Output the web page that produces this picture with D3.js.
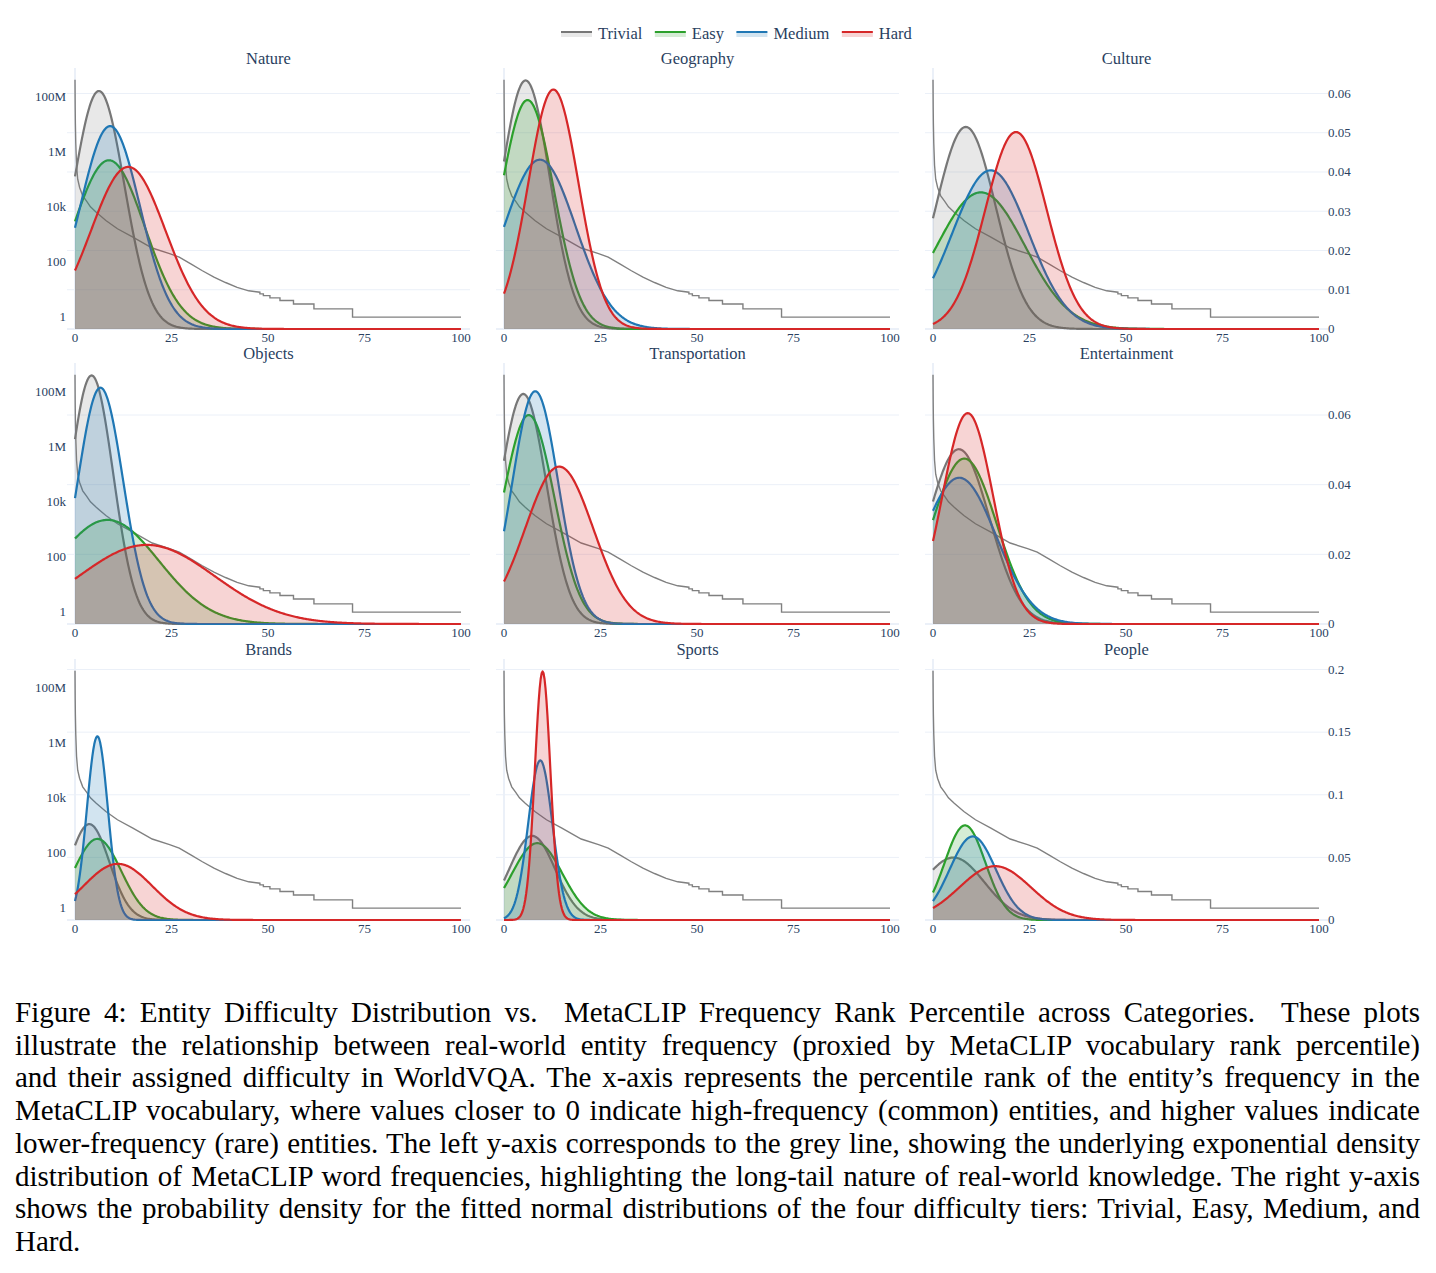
<!DOCTYPE html>
<html>
<head>
<meta charset="utf-8">
<script src="https://cdn.jsdelivr.net/npm/d3@7"></script>
<style>
  body { margin: 0; background: #fff; }
  svg { display: block; }
  text { font-family: "Liberation Serif", "Times New Roman", serif; }
</style>
</head>
<body>
<svg id="chart"></svg>
<script>
// ---- data ----
const categories = ["Nature", "Geography", "Culture", "Objects", "Transportation", "Entertainment", "Brands", "Sports", "People"];
const tiers = ["Trivial", "Easy", "Medium", "Hard"];

// fitted normal distributions, one row per category: [Trivial, Easy, Medium, Hard]
const tierMeans = [
    [6.2, 8.8, 9.1, 13.8],
    [5.6, 6.1, 9.3, 12.8],
    [8.5, 12.4, 14.9, 21.5],
    [4.3, 8.4, 6.6, 18.6],
    [5.0, 6.4, 8.1, 14.3],
    [6.7, 8.1, 6.8, 9.0],
    [3.7, 5.8, 5.8, 11.1],
    [7.3, 8.6, 9.4, 10.0],
    [5.3, 8.3, 10.3, 16.1]
];
const tierSds = [
    [6.58, 9.28, 7.72, 9.66],
    [6.30, 6.84, 9.25, 6.54],
    [7.75, 11.46, 9.87, 7.95],
    [5.59, 13.35, 5.88, 17.57],
    [6.04, 6.65, 5.97, 8.83],
    [7.95, 8.40, 9.50, 6.59],
    [5.21, 6.16, 2.72, 8.9],
    [5.94, 6.50, 3.13, 2.01],
    [8.00, 5.28, 5.98, 9.28]
];

// MetaCLIP word frequency vs rank percentile (same grey line in every panel)
const freqPercentile = [0, 0.05, 0.1, 0.2, 0.4, 0.7, 1.2, 2, 3, 4, 5.5, 8, 11, 15, 20, 24.5, 27, 30, 33, 36, 39, 42, 45,
    47.9, 47.9, 48.8, 48.8, 50.5, 50.5, 53.1, 53.1, 56.6, 56.6, 61.9, 61.9, 71.9, 71.9, 100];
const freqCount = [4e8, 4e7, 1e7, 2e6, 3.2e5, 1e5, 5e4, 2.5e4, 1.6e4, 1e4, 6300, 3200, 1600, 800, 320, 200, 150, 85, 48, 28, 18, 12, 9,
    8, 7, 7, 6, 6, 5, 5, 4, 4, 3, 3, 2, 2, 1, 1];

const freqTicks = [1, 100, 1e4, 1e6, 1e8];
const freqTickLabels = ["1", "100", "10k", "1M", "100M"];
const densityTicks = [
    [0, 0.01, 0.02, 0.03, 0.04, 0.05, 0.06],
    [0, 0.02, 0.04, 0.06],
    [0, 0.05, 0.1, 0.15, 0.2]
];
const xTicks = [0, 25, 50, 75, 100];

const captionLines = [
    "Figure 4: Entity Difficulty Distribution vs.  MetaCLIP Frequency Rank Percentile across Categories.  These plots",
    "illustrate the relationship between real-world entity frequency (proxied by MetaCLIP vocabulary rank percentile)",
    "and their assigned difficulty in WorldVQA. The x-axis represents the percentile rank of the entity’s frequency in the",
    "MetaCLIP vocabulary, where values closer to 0 indicate high-frequency (common) entities, and higher values indicate",
    "lower-frequency (rare) entities. The left y-axis corresponds to the grey line, showing the underlying exponential density",
    "distribution of MetaCLIP word frequencies, highlighting the long-tail nature of real-world knowledge. The right y-axis",
    "shows the probability density for the fitted normal distributions of the four difficulty tiers: Trivial, Easy, Medium, and",
    "Hard."
];

// ---- layout / style ----
const width = 1436;
const height = 1273;
const colLeft = [67, 496, 925];
const rowTop = [68, 363, 659];
const plotW = 403;
const plotH = 261;
const tickSize = 13;
const inkColor = "#2a3f5f";
const gridColor = "#ebf0f8";
const tierColors = ["#777777", "#2ca02c", "#1f77b4", "#d62728"];
const tierFills = ["rgba(128,128,128,0.18)", "rgba(44,160,44,0.2)", "rgba(31,119,180,0.2)", "rgba(214,39,40,0.2)"];

const svg = d3.select("#chart")
    .attr("width", width)
    .attr("height", height)
    .attr("viewBox", `0 0 ${width} ${height}`);

svg.append("rect").attr("width", width).attr("height", height).attr("fill", "#fff");

const normalPdf = (x, mu, sd) => Math.exp(-((x - mu) ** 2) / (2 * sd * sd)) / (sd * Math.sqrt(2 * Math.PI));

const x = d3.scaleLinear().domain([0, 100]).range([8, 394]);

// log axis padded 5% on each side like plotly autorange
const logLo = Math.log10(d3.min(freqCount));
const logHi = Math.log10(d3.max(freqCount));
const logPad = (logHi - logLo) * 0.05;
const yFreq = d3.scaleLog()
    .domain([10 ** (logLo - logPad), 10 ** (logHi + logPad)])
    .range([plotH, 0]);

const xs = d3.range(0, 100.001, 0.25);

const freqData = freqPercentile.map((p, i) => [p, freqCount[i]]);
const freqLine = d3.line().x(d => x(d[0])).y(d => yFreq(d[1]));

for (let row = 0; row < 3; row++) {
    // shared right axis per row
    let rowMax = 0;
    for (let col = 0; col < 3; col++) {
        const c = row * 3 + col;
        tierSds[c].forEach(sd => { rowMax = Math.max(rowMax, 1 / (sd * Math.sqrt(2 * Math.PI))); });
    }
    const yDens = d3.scaleLinear().domain([0, rowMax * 1.05]).range([plotH, 0]);

    for (let col = 0; col < 3; col++) {
        const c = row * 3 + col;
        const g = svg.append("g").attr("transform", `translate(${colLeft[col]},${rowTop[row]})`);

        // grid
        g.selectAll(".grid")
            .data(densityTicks[row].filter(t => t > 0))
            .enter()
            .append("line")
            .attr("x1", 0).attr("x2", plotW)
            .attr("y1", d => yDens(d)).attr("y2", d => yDens(d))
            .attr("stroke", gridColor)
            .attr("stroke-width", 1);

        // zero lines
        g.append("line")
            .attr("x1", 0).attr("x2", plotW)
            .attr("y1", yDens(0)).attr("y2", yDens(0))
            .attr("stroke", gridColor).attr("stroke-width", 2);
        g.append("line")
            .attr("x1", x(0)).attr("x2", x(0))
            .attr("y1", 0).attr("y2", plotH)
            .attr("stroke", gridColor).attr("stroke-width", 2);

        // frequency line (left axis)
        g.append("path")
            .attr("d", freqLine(freqData))
            .attr("fill", "none")
            .attr("stroke", "#808080")
            .attr("stroke-width", 1.4);

        // density curves (right axis)
        tiers.forEach((t, k) => {
            const pts = xs.map(v => [v, normalPdf(v, tierMeans[c][k], tierSds[c][k])]);
            g.append("path")
                .attr("d", d3.area().x(d => x(d[0])).y0(yDens(0)).y1(d => yDens(d[1]))(pts))
                .attr("fill", tierFills[k]);
            g.append("path")
                .attr("d", d3.line().x(d => x(d[0])).y(d => yDens(d[1]))(pts))
                .attr("fill", "none")
                .attr("stroke", tierColors[k])
                .attr("stroke-width", 2.2)
                .attr("stroke-linejoin", "round");
        });

        // x ticks
        g.selectAll(".xt")
            .data(xTicks)
            .enter()
            .append("text")
            .attr("x", d => x(d))
            .attr("y", plotH + 12.5)
            .attr("text-anchor", "middle")
            .attr("font-size", tickSize)
            .attr("fill", inkColor)
            .text(d => d);

        // title
        g.append("text")
            .attr("x", plotW / 2)
            .attr("y", -4)
            .attr("text-anchor", "middle")
            .attr("font-size", 16.5)
            .attr("fill", inkColor)
            .text(categories[c]);

        if (col === 0) {
            g.selectAll(".yl")
                .data(freqTicks)
                .enter()
                .append("text")
                .attr("x", -1)
                .attr("y", d => yFreq(d))
                .attr("dy", "0.33em")
                .attr("text-anchor", "end")
                .attr("font-size", tickSize)
                .attr("fill", inkColor)
                .text((d, i) => freqTickLabels[i]);
        }
        if (col === 2) {
            g.selectAll(".yr")
                .data(densityTicks[row])
                .enter()
                .append("text")
                .attr("x", plotW)
                .attr("y", d => yDens(d))
                .attr("dy", "0.33em")
                .attr("text-anchor", "start")
                .attr("font-size", tickSize)
                .attr("fill", inkColor)
                .text(d => d);
        }
    }
}

// legend
const legend = svg.append("g").attr("transform", "translate(561,32)");
let lx = 0;
tiers.forEach((t, k) => {
    const item = legend.append("g").attr("transform", `translate(${lx},0)`);
    item.append("rect").attr("x", 0).attr("y", 0).attr("width", 31).attr("height", 5).attr("fill", tierFills[k]);
    item.append("line").attr("x1", 0).attr("x2", 31).attr("y1", 0).attr("y2", 0)
        .attr("stroke", tierColors[k]).attr("stroke-width", 2);
    const txt = item.append("text")
        .attr("x", 37)
        .attr("y", 6.5)
        .attr("font-size", 16.5)
        .attr("fill", inkColor)
        .text(t);
    lx += 37 + txt.node().getComputedTextLength() + 12.5;
});

// caption, justified line by line
const capLeft = 15;
const capRight = 1420;
const cap = svg.append("g");
captionLines.forEach((line, i) => {
    const t = cap.append("text")
        .attr("x", capLeft)
        .attr("y", 1022 + i * 32.7)
        .attr("font-size", 29)
        .attr("fill", "#000")
        .attr("xml:space", "preserve")
        .style("white-space", "pre")
        .text(line);
    if (i < captionLines.length - 1) {
        const natural = t.node().getComputedTextLength();
        const spaces = (line.match(/ /g) || []).length;
        t.attr("word-spacing", (capRight - capLeft - natural) / spaces);
    }
});
</script>
</body>
</html>
